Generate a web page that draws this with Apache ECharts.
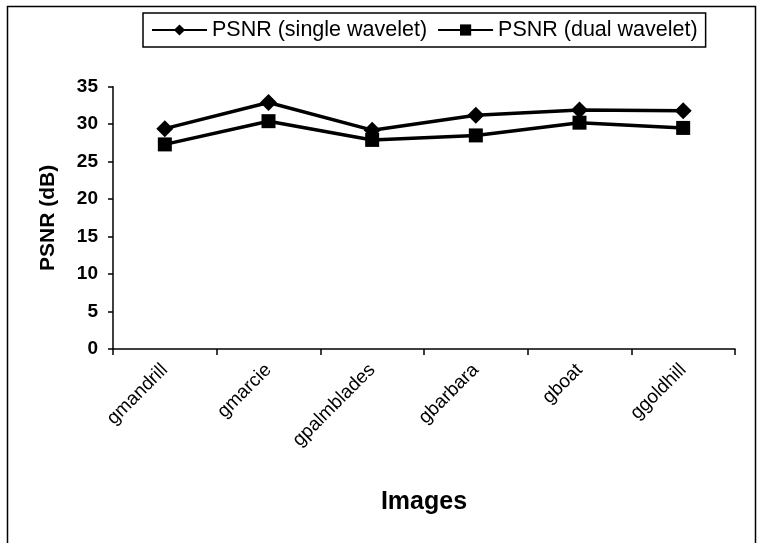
<!DOCTYPE html>
<html>
<head>
<meta charset="utf-8">
<script src="https://cdn.jsdelivr.net/npm/echarts@6/dist/echarts.min.js"></script>
<style>
html,body{margin:0;padding:0;background:#fff;}
#c{width:760px;height:543px;}
</style>
</head>
<body>
<div id="c"></div>
<script>
const categories = ['gmandrill', 'gmarcie', 'gpalmblades', 'gbarbara', 'gboat', 'ggoldhill'];
const singleWavelet = [29.4, 32.9, 29.2, 31.2, 31.9, 31.8];
const dualWavelet = [27.3, 30.4, 27.9, 28.5, 30.2, 29.5];
const yTicks = { min: 0, max: 35, interval: 5 };

const FONT = '"Liberation Sans", Arial, sans-serif';
const chart = echarts.init(document.getElementById('c'));
chart.setOption({
  animation: false,
  backgroundColor: '#fff',
  graphic: [{
    type: 'rect',
    shape: { x: 7.5, y: 6.5, width: 748, height: 560 },
    style: { fill: 'none', stroke: '#000', lineWidth: 1.5 },
    silent: true
  }],
  legend: {
    left: 143, top: 13,
    padding: [6, 8, 6, 8],
    borderColor: '#000', borderWidth: 1.5,
    itemWidth: 55, itemHeight: 14, itemGap: 10,
    textStyle: { fontFamily: FONT, fontSize: 21.5, color: '#000' },
    data: ['PSNR (single wavelet)', 'PSNR (dual wavelet)']
  },
  grid: { left: 113, right: 25, top: 86.7, bottom: 194, containLabel: false },
  xAxis: {
    type: 'category',
    data: categories,
    boundaryGap: true,
    name: 'Images',
    nameLocation: 'middle',
    nameGap: 141,
    nameTextStyle: { fontFamily: FONT, fontSize: 25, fontWeight: 'bold', color: '#000' },
    axisLine: { lineStyle: { color: '#000', width: 1.5 } },
    axisTick: { show: true, length: 6, lineStyle: { color: '#000', width: 1.5 } },
    axisLabel: { rotate: 45, margin: 18, fontFamily: FONT, fontSize: 19, color: '#000' }
  },
  yAxis: {
    type: 'value',
    min: yTicks.min, max: yTicks.max, interval: yTicks.interval,
    name: 'PSNR (dB)',
    nameLocation: 'middle',
    nameGap: 54,
    nameRotate: 90,
    nameTextStyle: { fontFamily: FONT, fontSize: 21, fontWeight: 'bold', color: '#000' },
    splitLine: { show: false },
    axisLine: { show: true, lineStyle: { color: '#000', width: 1.5 } },
    axisTick: { show: true, length: 5, lineStyle: { color: '#000', width: 1.5 } },
    axisLabel: { margin: 15, fontFamily: FONT, fontSize: 19, fontWeight: 'bold', color: '#000' }
  },
  series: [
    {
      name: 'PSNR (single wavelet)',
      type: 'line',
      data: singleWavelet,
      symbol: 'diamond', symbolSize: 17,
      lineStyle: { color: '#000', width: 3.5 },
      itemStyle: { color: '#000' }
    },
    {
      name: 'PSNR (dual wavelet)',
      type: 'line',
      data: dualWavelet,
      symbol: 'rect', symbolSize: 14,
      lineStyle: { color: '#000', width: 3.5 },
      itemStyle: { color: '#000' }
    }
  ]
});
</script>
</body>
</html>
